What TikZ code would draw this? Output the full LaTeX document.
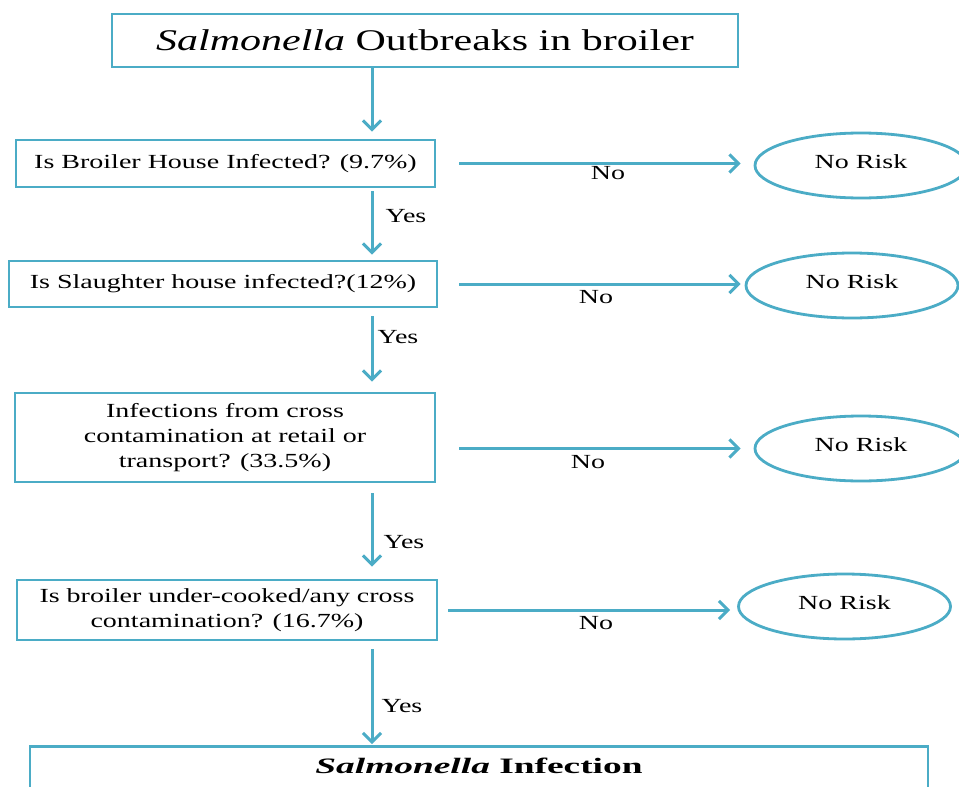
\documentclass[tikz,border=0pt]{standalone}
\usepackage{fontspec}
\setmainfont[FakeStretch=1.4]{Liberation Serif}
\newfontfamily\widefont[FakeStretch=1.7]{Liberation Serif}
\usetikzlibrary{arrows.meta,shapes.geometric}
\definecolor{flowblue}{RGB}{75,172,198}
\tikzset{
  box/.style={draw=flowblue, line width=2.8pt, rectangle, inner sep=0pt, align=center, text=black, font=\fontsize{20}{25}\selectfont},
  risk/.style={draw=flowblue, line width=2.8pt, ellipse, minimum width=212pt, minimum height=65pt, inner sep=0pt, text depth=7pt, font=\fontsize{20}{24}\selectfont},
  arr/.style={draw=flowblue, line width=3pt, -{Straight Barb[length=9pt,width=18pt]}},
  lbl/.style={font=\fontsize{20}{24}\selectfont, inner sep=0pt}
}
\begin{document}
\begin{tikzpicture}[x=1pt,y=-1pt]
\useasboundingbox[fill=white] (0,0) rectangle (959,787);
% boxes
\node[box, minimum width=626pt, minimum height=53pt, font=\fontsize{30}{36}\selectfont] (top) at (425,40.5) {\textit{Salmonella} Outbreaks in broiler};
\node[box, minimum width=419pt, minimum height=47pt] (b1) at (225.5,163.5) {Is Broiler House Infected? (9.7\%)};
\node[box, minimum width=428pt, minimum height=46pt] (b2) at (223,284) {Is Slaughter house infected?(12\%)};
\node[box, minimum width=420pt, minimum height=89pt] (b3) at (225,437.5) {Infections from cross\\contamination at retail or\\transport? (33.5\%)};
\node[box, minimum width=420pt, minimum height=60pt] (b4) at (227,610) {Is broiler under-cooked/any cross\\contamination? (16.7\%)};
\node[box, anchor=north, minimum width=898pt, inner ysep=12pt, text height=15pt, text depth=45pt, font=\widefont\fontsize{22}{26}\selectfont\bfseries] (b5) at (479,745) {\textit{Salmonella} Infection};
% ellipses
\node[risk] (e1) at (861,165.5) {No Risk};
\node[risk] (e2) at (852,285.5) {No Risk};
\node[risk] (e3) at (861,448.5) {No Risk};
\node[risk] (e4) at (844.5,606.5) {No Risk};
% vertical arrows
\coordinate (ax) at (372,0);
\draw[arr, shorten >=7pt] (top.south -| ax) -- (b1.north -| ax);
\draw[arr, shorten <=3pt, shorten >=5pt] (b1.south -| ax) -- (b2.north -| ax);
\draw[arr, shorten <=8pt, shorten >=10pt] (b2.south -| ax) -- (b3.north -| ax);
\draw[arr, shorten <=10pt, shorten >=12pt] (b3.south -| ax) -- (b4.north -| ax);
\draw[arr, shorten <=8pt, shorten >=1pt] (b4.south -| ax) -- (b5.north -| ax);
% horizontal arrows
\draw[arr, shorten <=23pt, shorten >=13pt] (b1.east) -- (b1.east -| e1.west);
\draw[arr, shorten <=21pt, shorten >=4pt] (b2.east) -- (b2.east -| e2.west);
\draw[arr, shorten <=23pt, shorten >=13pt] (b3.east |- e3.west) -- (e3.west);
\draw[arr, shorten <=10pt, shorten >=7pt] (b4.east) -- (b4.east -| e4.west);
% labels
\node[lbl] (no1) at (608,173) {No};
\node[lbl] (no2) at (596,297) {No};
\node[lbl] (no3) at (588,462) {No};
\node[lbl] (no4) at (596,623) {No};
\node[lbl] (y1) at (406,216) {Yes};
\node[lbl] (y2) at (398,337) {Yes};
\node[lbl] (y3) at (404,542) {Yes};
\node[lbl] (y4) at (402,706) {Yes};
\end{tikzpicture}
\end{document}
